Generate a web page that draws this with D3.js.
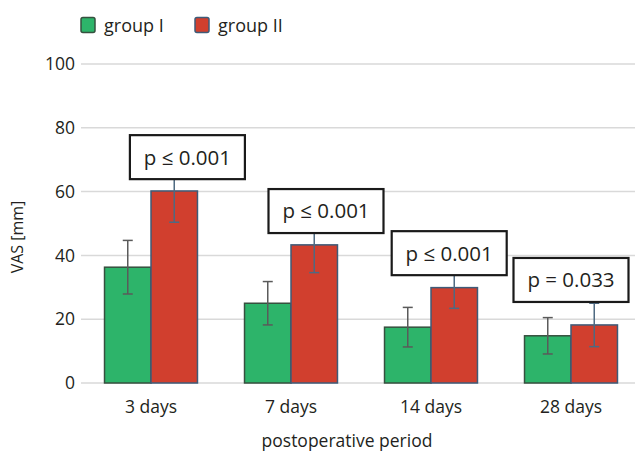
<!DOCTYPE html>
<html>
<head>
<meta charset="utf-8">
<script src="https://cdn.jsdelivr.net/npm/d3@7"></script>
<style>
  html, body { margin: 0; padding: 0; background: #fff; }
  svg { display: block; font-family: "Open Sans", "Noto Sans", sans-serif; }
</style>
</head>
<body>
<svg id="chart" width="635" height="454"></svg>
<script>
const categories = ["3 days", "7 days", "14 days", "28 days"];
const groups = ["group I", "group II"];
const groupI = [36.3, 25.0, 17.5, 14.8];
const groupIErr = [8.4, 6.8, 6.2, 5.7];
const groupII = [60.2, 43.3, 29.9, 18.2];
const groupIIErr = [9.8, 8.7, 6.5, 6.8];
const pLabels = ["p \u2264 0.001", "p \u2264 0.001", "p \u2264 0.001", "p = 0.033"];
const pLabelY = [70.8, 53.9, 40.7, 32.3];       // box centre, data units
const pLabelShift = [0.26, 0.25, 0.13, 0.0];     // box centre offset, fraction of band step
const yTicks = [0, 20, 40, 60, 80, 100];

const colors = ["#2db46a", "#d13f2e"];
const strokes = ["#36503f", "#3e5b78"];
const errColors = ["#5a5a5a", "#4e6a82"];

const svg = d3.select("#chart");
const x = d3.scaleBand().domain(categories).range([81, 641]).paddingInner(0.336).paddingOuter(0.168);
const xs = d3.scaleBand().domain(groups).range([0, x.bandwidth()]);
const y = d3.scaleLinear().domain([0, 100]).range([383, 64]);

// gridlines
svg.append("g").selectAll("line").data(yTicks).join("line")
  .attr("x1", 81).attr("x2", 635)
  .attr("y1", d => y(d)).attr("y2", d => y(d))
  .attr("stroke", "#d9d9d9").attr("stroke-width", 1.5);

// y tick labels
svg.append("g").selectAll("text").data(yTicks).join("text")
  .attr("x", 75).attr("y", d => y(d)).attr("dy", "0.35em")
  .attr("text-anchor", "end").attr("font-size", 17.5).attr("fill", "#231f20")
  .text(d => d);

// y title
svg.append("text").attr("transform", `translate(23,237) rotate(-90)`)
  .attr("text-anchor", "middle").attr("font-size", 16).attr("fill", "#231f20")
  .text("VAS [mm]");

const series = [
  { key: groups[0], vals: groupI, errs: groupIErr, i: 0 },
  { key: groups[1], vals: groupII, errs: groupIIErr, i: 1 }
];

// bars
series.forEach(s => {
  svg.append("g").selectAll("rect").data(categories).join("rect")
    .attr("x", (c) => x(c) + xs(s.key))
    .attr("y", (c, j) => y(s.vals[j]))
    .attr("width", xs.bandwidth())
    .attr("height", (c, j) => y(0) - y(s.vals[j]))
    .attr("fill", colors[s.i]).attr("stroke", strokes[s.i]).attr("stroke-width", 1.5);
});

// error bars
series.forEach(s => {
  const g = svg.append("g").attr("stroke", errColors[s.i]).attr("stroke-width", 1.5);
  categories.forEach((c, j) => {
    const cx = x(c) + xs(s.key) + xs.bandwidth() / 2;
    const hi = y(s.vals[j] + s.errs[j]), lo = y(s.vals[j] - s.errs[j]);
    g.append("line").attr("x1", cx).attr("x2", cx).attr("y1", hi).attr("y2", lo);
    g.append("line").attr("x1", cx - 5).attr("x2", cx + 5).attr("y1", hi).attr("y2", hi);
    g.append("line").attr("x1", cx - 5).attr("x2", cx + 5).attr("y1", lo).attr("y2", lo);
  });
});

// p-value boxes
const boxW = 115, boxH = 44;
const pg = svg.append("g");
categories.forEach((c, j) => {
  const cx = x(c) + x.bandwidth() / 2 + pLabelShift[j] * x.step();
  const cy = y(pLabelY[j]);
  pg.append("rect").attr("x", cx - boxW / 2).attr("y", cy - boxH / 2)
    .attr("width", boxW).attr("height", boxH)
    .attr("fill", "#fff").attr("stroke", "#1a1a1a").attr("stroke-width", 2.2);
  pg.append("text").attr("x", cx).attr("y", cy).attr("dy", "0.36em")
    .attr("text-anchor", "middle").attr("font-size", 20.5).attr("fill", "#231f20")
    .text(pLabels[j]);
});

// x labels
svg.append("g").selectAll("text").data(categories).join("text")
  .attr("x", c => x(c) + x.bandwidth() / 2).attr("y", 413)
  .attr("text-anchor", "middle").attr("font-size", 17.5).attr("fill", "#231f20")
  .text(c => c);

svg.append("text").attr("x", 347).attr("y", 447)
  .attr("text-anchor", "middle").attr("font-size", 17.5).attr("fill", "#231f20")
  .text("postoperative period");

// legend
const legX = [81, 195];
groups.forEach((g, i) => {
  svg.append("rect").attr("x", legX[i]).attr("y", 17.5).attr("width", 14).attr("height", 15)
    .attr("rx", 2).attr("fill", colors[i]).attr("stroke", strokes[i]).attr("stroke-width", 1.5);
  svg.append("text").attr("x", legX[i] + 23).attr("y", 32)
    .attr("font-size", 18).attr("fill", "#231f20").text(g);
});
</script>
</body>
</html>
